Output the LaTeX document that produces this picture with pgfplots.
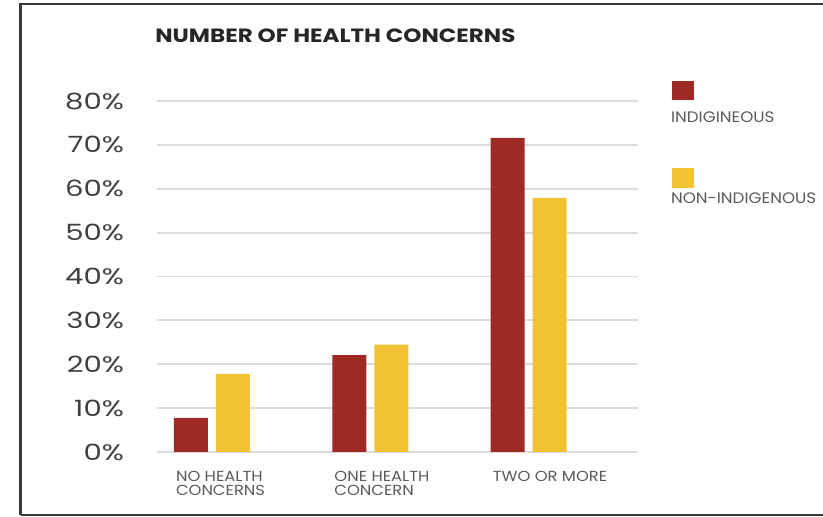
\documentclass[border=0pt]{standalone}
\usepackage{pgfplots}
\pgfplotsset{compat=1.18}
\usepackage{fontspec}
\setmainfont{Poppins}
\definecolor{indig}{HTML}{9E2A26}
\definecolor{nonindig}{HTML}{F3C232}
\definecolor{gridc}{HTML}{DCDCDC}
\definecolor{ticktext}{HTML}{404040}
\definecolor{cattext}{HTML}{5A5A5A}
\definecolor{framec}{HTML}{3A3A3A}
\newcommand\yl[1]{\scalebox{1.3}[1]{#1\%}}
\newcommand\cl[1]{\scalebox{1.12}[1]{#1}}
\begin{document}
\begin{tikzpicture}
\path[use as bounding box] (0,0) rectangle (411.5pt,258.5pt);
% frame
\draw[framec, line width=1.3pt] (10.25pt,1pt) -- (10.25pt,256.5pt) -- (411.5pt,256.5pt);
\draw[framec, line width=1.1pt] (10.25pt,1pt) -- (411.5pt,1pt);
\begin{axis}[
  at={(78.5pt,32.5pt)}, anchor=south west,
  scale only axis, width=240.5pt, height=175.5pt,
  xmin=-0.347, xmax=2.69, ymin=0, ymax=80,
  axis line style={draw=none},
  tick style={draw=none},
  ymajorgrids, grid style={gridc, line width=0.9pt},
  ytick={0,10,20,30,40,50,60,70,80},
  yticklabels={\yl{0},\yl{10},\yl{20},\yl{30},\yl{40},\yl{50},\yl{60},\yl{70},\yl{80}},
  yticklabel style={font=\fontsize{11.2}{13}\selectfont, text=ticktext, anchor=east, xshift=-13pt},
  xtick={0,1,2},
  xticklabels={\cl{NO HEALTH}\\\cl{CONCERNS}, \cl{ONE HEALTH}\\\cl{CONCERN}, \cl{TWO OR MORE}},
  xticklabel style={font=\fontsize{7.3}{7.3}\selectfont, text=cattext, anchor=north west, align=left, xshift=-21.5pt, yshift=-6pt},
  /pgf/number format/assume math mode=true,
  clip=false,
]
\addplot[ybar, bar width=17pt, bar shift=-10.5pt, fill=indig, draw=none] coordinates {(0,7.8) (1,22.1) (2,71.6)};
\addplot[ybar, bar width=17pt, bar shift=10.5pt, fill=nonindig, draw=none] coordinates {(0,17.8) (1,24.5) (2,57.9)};
\end{axis}
% title
\node[anchor=base west, inner sep=0pt, text=black!85, font=\fontsize{9.6}{11}\selectfont\bfseries] at (77.5pt,237pt) {\scalebox{1.2}[1]{NUMBER OF HEALTH CONCERNS}};
% legend
\fill[indig] (336pt,208.5pt) rectangle (347pt,218pt);
\node[anchor=base west, inner sep=0pt, text=cattext, font=\fontsize{7.6}{9}\selectfont] at (335.3pt,197pt) {\scalebox{1.1}[1]{INDIGINEOUS}};
\fill[nonindig] (336pt,164.5pt) rectangle (347pt,174.5pt);
\node[anchor=base west, inner sep=0pt, text=cattext, font=\fontsize{7.6}{9}\selectfont] at (335.3pt,156.5pt) {\scalebox{1.1}[1]{NON-INDIGENOUS}};
\end{tikzpicture}
\end{document}
